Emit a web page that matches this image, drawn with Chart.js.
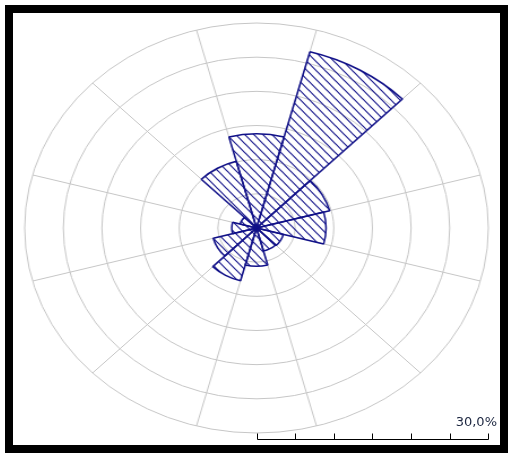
<!DOCTYPE html>
<html>
<head>
<meta charset="utf-8">
<script src="https://cdn.jsdelivr.net/npm/chart.js@4.4.1/dist/chart.umd.min.js"></script>
<style>
  html, body { margin: 0; padding: 0; background: #fff; }
  body { width: 508px; height: 453px; position: relative; overflow: hidden; }
  #frame { position: absolute; left: 5px; top: 5px; width: 503px; height: 448px; border: 8px solid #000; box-sizing: border-box; background: #fff; }
  #rose-wrap { position: absolute; left: 19px; top: 18px; width: 420px; height: 420px; transform-origin: 0 0; }
  #scale-bar { position: absolute; left: 0; top: 0; width: 508px; height: 453px; pointer-events: none; }
  #scale-label { position: absolute; top: 414px; right: 11px; font: 13px "DejaVu Sans", sans-serif; color: #1c2640; }
</style>
</head>
<body>
<div id="frame"></div>
<div id="rose-wrap"><canvas id="rose" width="420" height="420"></canvas></div>
<svg id="scale-bar" xmlns="http://www.w3.org/2000/svg"></svg>
<div id="scale-label"></div>
<script>
  // --- DATOS ---
  const directions = ["0°", "30°", "60°", "90°", "120°", "150°", "180°", "210°", "240°", "270°", "300°", "330°"];
  const frequency = [13.8, 26.7, 9.8, 9.0, 3.6, 3.5, 5.6, 8.0, 5.8, 3.2, 2.2, 10.1];
  const ringTicks = [0, 5, 10, 15, 20, 25, 30];

  // --- ESTILO ---
  const NAVY = "#101088";
  const GRID = "#c6c6c6";
  const STRETCH_X = 475 / 420; // the rose is an ellipse, wider than tall
  const WRAP_LEFT = 19;

  document.getElementById("rose-wrap").style.transform = `scaleX(${STRETCH_X})`;

  const makeHatch = (w, h, color) => {
    const c = document.createElement("canvas");
    c.width = w;
    c.height = h;
    const g = c.getContext("2d");
    g.strokeStyle = color;
    g.lineWidth = 1.1;
    [-w, 0, w].forEach((dx) => {
      g.beginPath();
      g.moveTo(dx - w, -h);
      g.lineTo(dx + 2 * w, 2 * h);
      g.stroke();
    });
    return g.createPattern(c, "repeat");
  };

  const canvas = document.getElementById("rose");
  const hatch = makeHatch(8, 9, NAVY);

  const rose = new Chart(canvas.getContext("2d"), {
    type: "polarArea",
    data: {
      labels: directions,
      datasets: [{
        data: frequency,
        backgroundColor: hatch,
        borderColor: NAVY,
        borderWidth: 1.5
      }]
    },
    options: {
      responsive: false,
      animation: false,
      layout: { padding: 5 },
      plugins: { legend: { display: false }, tooltip: { enabled: false } },
      scales: {
        r: {
          min: ringTicks[0],
          max: ringTicks[ringTicks.length - 1],
          startAngle: -15,
          ticks: { display: false, stepSize: ringTicks[1] - ringTicks[0] },
          grid: { color: GRID, lineWidth: 1, circular: true },
          angleLines: { display: true, color: GRID, lineWidth: 1 },
          pointLabels: { display: false }
        }
      }
    }
  });

  // --- BARRA DE ESCALA ---
  const r = rose.scales.r;
  const left = WRAP_LEFT + r.xCenter * STRETCH_X;
  const y = 439.5;
  let svg = "";
  const xs = ringTicks.map((v) => Math.round(left + r.getDistanceFromCenterForValue(v) * STRETCH_X) + 0.5);
  svg += `<line x1="${xs[0]}" y1="${y}" x2="${xs[xs.length - 1]}" y2="${y}" stroke="#000" stroke-width="1"/>`;
  xs.forEach((x) => {
    svg += `<line x1="${x}" y1="${y - 6}" x2="${x}" y2="${y}" stroke="#000" stroke-width="1"/>`;
  });
  document.getElementById("scale-bar").innerHTML = svg;
  const maxVal = ringTicks[ringTicks.length - 1];
  document.getElementById("scale-label").textContent = `${maxVal.toFixed(1).replace(".", ",")}%`;
</script>
</body>
</html>
